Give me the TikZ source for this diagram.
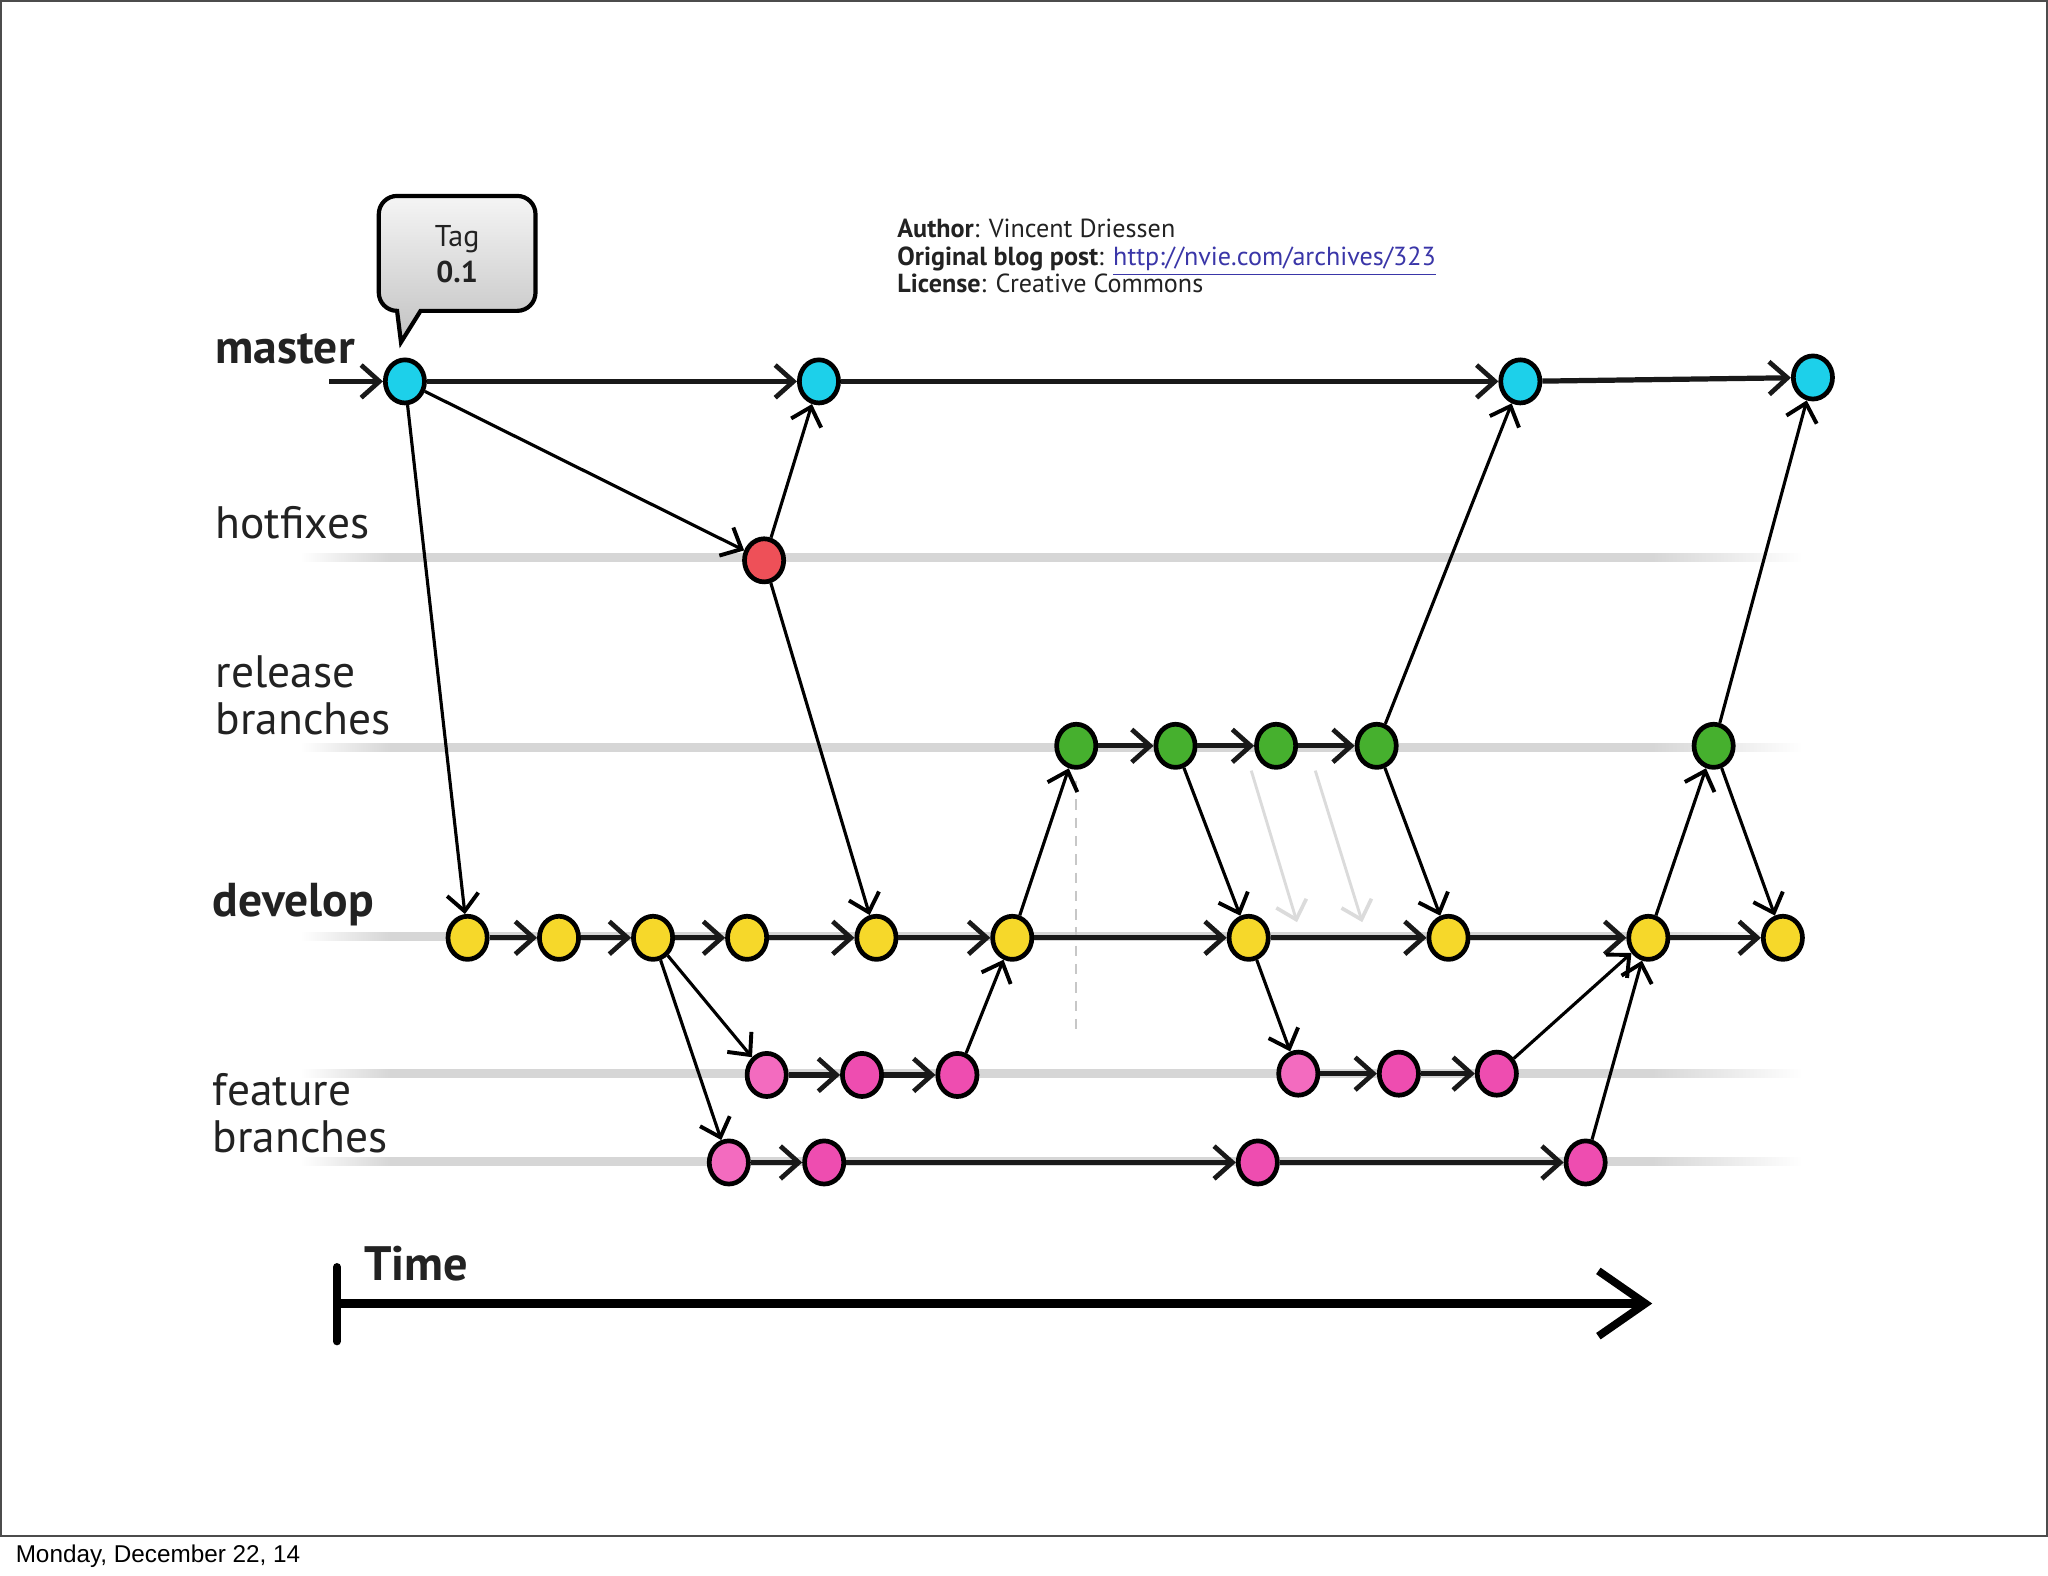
\documentclass[tikz,border=0pt]{standalone}
\usepackage{fontspec}
\setmainfont{PT Sans}
\newfontfamily\datefont{Liberation Sans}
\usetikzlibrary{arrows.meta,shapes.geometric}

\definecolor{cyanc}{HTML}{1DD0EA}
\definecolor{redc}{HTML}{EE5058}
\definecolor{greenc}{HTML}{46B02E}
\definecolor{yellowc}{HTML}{F6D82A}
\definecolor{pinkc}{HTML}{EE4DB0}
\definecolor{pinklight}{HTML}{F36BBF}
\definecolor{lanec}{HTML}{D6D6D6}
\definecolor{linkc}{HTML}{3A36A8}
\definecolor{textc}{HTML}{222222}

\pgfdeclarehorizontalshading{laneshade}{100bp}{color(0bp)=(white); color(25bp)=(white); color(28bp)=(lanec); color(70bp)=(lanec); color(75bp)=(white); color(100bp)=(white)}

\tikzset{
  commit/.style={ellipse, draw=black, line width=1.8pt, inner sep=0pt,
                 minimum width=15pt, minimum height=16.5pt},
  flow/.style={line width=2pt, draw=black!90,
               -{Straight Barb[length=7pt,width=12.5pt,line width=1.8pt]}},
  cross/.style={line width=1.2pt, draw=black,
               -{Straight Barb[length=6.5pt,width=12pt,line width=1.5pt]}},
  ghost/.style={line width=1.1pt, draw=black!14,
               -{Straight Barb[length=6.5pt,width=12pt,line width=1.4pt]}},
  lanelabel/.style={anchor=base west, text=textc, font=\fontsize{17.4}{20}\selectfont},
  lanelabelb/.style={anchor=base west, text=textc, font=\bfseries\fontsize{18.2}{21}\selectfont},
  infotext/.style={anchor=base west, text=textc, font=\fontsize{10}{12}\selectfont},
}

\begin{document}
\begin{tikzpicture}[x=0.5pt,y=-0.5pt]
\useasboundingbox (0,0) rectangle (1568,1206);
\fill[white] (0,0) rectangle (1568,1206);

% slide frame
\draw[line width=0.6pt, black!70] (0.6,0.6) rectangle (1567.4,1176);

% date
\node[anchor=base west, font=\datefont\fontsize{9.3}{11}\selectfont] (date) at (5,1196) {Monday, December 22, 14};

% lanes
\shade[shading=laneshade] (230,424) rectangle (1380,430);
\shade[shading=laneshade] (230,569) rectangle (1380,575);
\shade[shading=laneshade] (230,714) rectangle (1380,720);
\shade[shading=laneshade] (230,819) rectangle (1380,825);
\shade[shading=laneshade] (230,886) rectangle (1380,892);

% labels
\node[lanelabelb] (lmaster) at (158,278) {master};
\node[lanelabel] (lhot) at (158,412) {hotfixes};
\node[lanelabel] (lrel1) at (158,526) {release};
\node[lanelabel] (lrel2) at (158,562) {branches};
\node[lanelabelb] (ldev) at (156,702) {develop};
\node[lanelabel] (lfeat1) at (156,846) {feature};
\node[lanelabel] (lfeat2) at (156,882) {branches};

% info text
\node[infotext] (author) at (680,182) {\textbf{Author}: Vincent Driessen};
\node[infotext] (blog) at (680,203) {\textbf{Original blog post}: \textcolor{linkc}{\underline{http://nvie.com/archives/323}}};
\node[infotext] (lic) at (680,224) {\textbf{License}: Creative Commons};

% tag bubble
\draw[line width=1.6pt, top color=black!4, bottom color=black!24]
  (307,262) -- (322,238) [rounded corners=7pt] -- (410,238) -- (410,150) -- (290,150) -- (290,238) [sharp corners] -- (304,238) -- cycle;
\node[text=textc, font=\fontsize{11.5}{13}\selectfont] (tagt) at (350,183) {Tag};
\node[text=textc, font=\bfseries\fontsize{11.5}{13}\selectfont] (tagv) at (350,208) {0.1};

% commits
\node[commit, fill=cyanc] (M1) at (310,292) {};
\node[commit, fill=cyanc] (M2) at (627,292) {};
\node[commit, fill=cyanc] (M3) at (1164,292) {};
\node[commit, fill=cyanc] (M4) at (1388,289) {};

\node[commit, fill=redc] (H1) at (585,429) {};

\node[commit, fill=greenc] (R1) at (824,571) {};
\node[commit, fill=greenc] (R2) at (900,571) {};
\node[commit, fill=greenc] (R3) at (977,571) {};
\node[commit, fill=greenc] (R4) at (1054,571) {};
\node[commit, fill=greenc] (R5) at (1312,571) {};

\node[commit, fill=yellowc] (D1) at (358,718) {};
\node[commit, fill=yellowc] (D2) at (428,718) {};
\node[commit, fill=yellowc] (D3) at (500,718) {};
\node[commit, fill=yellowc] (D4) at (572,718) {};
\node[commit, fill=yellowc] (D5) at (671,718) {};
\node[commit, fill=yellowc] (D6) at (775,718) {};
\node[commit, fill=yellowc] (D7) at (956,718) {};
\node[commit, fill=yellowc] (D8) at (1109,718) {};
\node[commit, fill=yellowc] (D9) at (1262,718) {};
\node[commit, fill=yellowc] (D10) at (1365,718) {};

\node[commit, fill=pinklight] (F1) at (587,823) {};
\node[commit, fill=pinkc] (F2) at (660,823) {};
\node[commit, fill=pinkc] (F3) at (733,823) {};
\node[commit, fill=pinklight] (F4) at (994,822) {};
\node[commit, fill=pinkc] (F5) at (1071,822) {};
\node[commit, fill=pinkc] (F6) at (1146,822) {};

\node[commit, fill=pinklight] (G1) at (558,890) {};
\node[commit, fill=pinkc] (G2) at (631,890) {};
\node[commit, fill=pinkc] (G3) at (963,890) {};
\node[commit, fill=pinkc] (G4) at (1214,890) {};

% helper coordinates
\coordinate (in) at (252,292);
\coordinate (g1s) at (958,590);
\coordinate (g1e) at (993,706);
\coordinate (g2s) at (1007,590);
\coordinate (g2e) at (1043,706);
\coordinate (ds) at (824,598);
\coordinate (de) at (824,790);

% faint elements
\draw[black!22, line width=0.8pt, dash pattern=on 4pt off 3pt] (ds) -- (de);
\draw[ghost] (g1s) -- (g1e);
\draw[ghost] (g2s) -- (g2e);

% master
\draw[flow] (in) -- (M1);
\draw[flow] (M1) -- (M2);
\draw[flow] (M2) -- (M3);
\draw[flow] (M3) -- (M4);
\draw[cross] (M1) -- (H1);
\draw[cross] (H1) -- (M2);
\draw[cross] (M1) -- (D1);
\draw[cross] (H1) -- (D5);

% develop
\draw[flow] (D1) -- (D2);
\draw[flow] (D2) -- (D3);
\draw[flow] (D3) -- (D4);
\draw[flow] (D4) -- (D5);
\draw[flow] (D5) -- (D6);
\draw[flow] (D6) -- (D7);
\draw[flow] (D7) -- (D8);
\draw[flow] (D8) -- (D9);
\draw[flow] (D9) -- (D10);

% features
\draw[cross] (D3) -- (F1);
\draw[cross] (D3) -- (G1);
\draw[flow] (F1) -- (F2);
\draw[flow] (F2) -- (F3);
\draw[cross] (F3) -- (D6);
\draw[flow] (G1) -- (G2);
\draw[flow] (G2) -- (G3);
\draw[flow] (G3) -- (G4);
\draw[cross] (D7) -- (F4);
\draw[flow] (F4) -- (F5);
\draw[flow] (F5) -- (F6);
\draw[cross] (F6) -- (D9);
\draw[cross] (G4) -- (D9);

% release
\draw[cross] (D6) -- (R1);
\draw[flow] (R1) -- (R2);
\draw[flow] (R2) -- (R3);
\draw[flow] (R3) -- (R4);
\draw[cross] (R2) -- (D7);
\draw[cross] (R4) -- (D8);
\draw[cross] (R4) -- (M3);
\draw[cross] (D9) -- (R5);
\draw[cross] (R5) -- (M4);
\draw[cross] (R5) -- (D10);

% time axis
\coordinate (t0) at (260,998);
\coordinate (t1) at (1265,998);
\coordinate (b0) at (258,970);
\coordinate (b1) at (258,1027);
\draw[line width=3pt, line cap=round] (b0) -- (b1);
\draw[line width=3.6pt, -{Straight Barb[length=18pt,width=25pt,line width=3pt]}] (t0) -- (t1);
\node[anchor=base west, text=textc, font=\bfseries\fontsize{18.5}{22}\selectfont] (time) at (272,980) {Time};

\end{tikzpicture}
\end{document}
